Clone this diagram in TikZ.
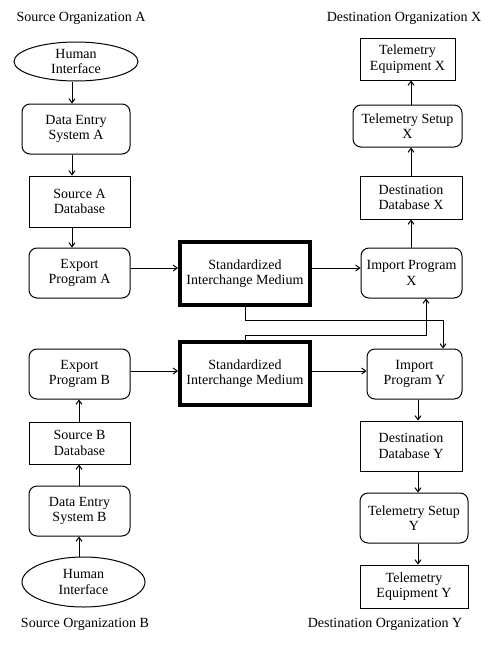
\documentclass[tikz,border=0pt]{standalone}
\usepackage{fontspec}
\setmainfont{Liberation Serif}
\usetikzlibrary{shapes.geometric,arrows.meta}

\begin{document}
\begin{tikzpicture}[x=1pt,y=-1pt,
    every node/.style={font=\fontsize{14}{15.5}\selectfont, align=center, inner sep=0pt},
    box/.style={draw, line width=1pt},
    rbox/.style={draw, line width=1pt, rounded corners=8pt},
    hbox/.style={draw, line width=4pt},
    blob/.style={draw, ellipse, line width=1pt},
    arr/.style={-{Straight Barb[length=4pt,width=6pt]}, line width=1pt}]
    \useasboundingbox (0,0) rectangle (492,648);
    % source A
    \node (orgA) at (81,18) {Source Organization A};
    \node[blob, minimum width=124pt, minimum height=39pt] (humA) at (76,61.5) {Human\\Interface};
    \node[rbox, minimum width=108pt, minimum height=50pt] (entA) at (76,129) {Data Entry\\System A};
    \node[box, minimum width=101pt, minimum height=51pt] (dbA) at (79.5,201.5) {Source A\\Database};
    \node[rbox, minimum width=101pt, minimum height=50pt] (expA) at (79.5,273) {Export\\Program A};
    \coordinate (xA) at (72,0);
    \draw[arr] (humA.south -| xA) -- (entA.north -| xA);
    \draw[arr] (entA.south -| xA) -- (dbA.north -| xA);
    \draw[arr] (dbA.south -| xA) -- (expA.north -| xA);
    % source B
    \node[rbox, minimum width=101pt, minimum height=50pt] (expB) at (79.5,374) {Export\\Program B};
    \node[box, minimum width=101pt, minimum height=42pt] (dbB) at (79.5,443) {Source B\\Database};
    \node[rbox, minimum width=101pt, minimum height=50pt] (entB) at (79.5,511) {Data Entry\\System B};
    \node[blob, minimum width=123pt, minimum height=50pt] (humB) at (83.5,582) {Human\\Interface};
    \node (orgB) at (85,624) {Source Organization B};
    \coordinate (xB) at (79,0);
    \draw[arr] (humB.north -| xB) -- (entB.south -| xB);
    \draw[arr] (entB.north -| xB) -- (dbB.south -| xB);
    \draw[arr] (dbB.north -| xB) -- (expB.south -| xB);
    % interchange media
    \node[hbox, minimum width=130pt, minimum height=63pt] (simA) at (245,273.5) {Standardized\\Interchange Medium};
    \node[hbox, minimum width=130pt, minimum height=63pt] (simB) at (245,373.5) {Standardized\\Interchange Medium};
    \coordinate (yA) at (0,268);
    \coordinate (yB) at (0,371);
    \draw[arr] (expA.east |- yA) -- (simA.west |- yA);
    \draw[arr] (expB.east |- yB) -- (simB.west |- yB);
    % destination X
    \node (orgX) at (404,18) {Destination Organization X};
    \node[box, minimum width=95pt, minimum height=42pt] (telX) at (407.5,59) {Telemetry\\Equipment X};
    \node[rbox, minimum width=109pt, minimum height=42pt] (setX) at (407.5,126) {Telemetry Setup\\X};
    \node[box, minimum width=102pt, minimum height=43pt] (dbX) at (411,197.5) {Destination\\Database X};
    \node[rbox, minimum width=101pt, minimum height=50pt] (impX) at (411.5,273) {Import Program\\X};
    \coordinate (xX) at (411,0);
    \draw[arr] (impX.north -| xX) -- (dbX.south -| xX);
    \draw[arr] (dbX.north -| xX) -- (setX.south -| xX);
    \draw[arr] (setX.north -| xX) -- (telX.south -| xX);
    \draw[arr] (simA.east |- yA) -- (impX.west |- yA);
    % destination Y
    \node[rbox, minimum width=95pt, minimum height=50pt] (impY) at (414.5,374) {Import\\Program Y};
    \node[box, minimum width=102pt, minimum height=50pt] (dbY) at (411,446) {Destination\\Database Y};
    \node[rbox, minimum width=108pt, minimum height=50pt] (setY) at (414,518) {Telemetry Setup\\Y};
    \node[box, minimum width=108pt, minimum height=43pt] (telY) at (414,586.5) {Telemetry\\Equipment Y};
    \node (orgY) at (385,624) {Destination Organization Y};
    \coordinate (xY) at (418,0);
    \draw[arr] (impY.south -| xY) -- (dbY.north -| xY);
    \draw[arr] (dbY.south -| xY) -- (setY.north -| xY);
    \draw[arr] (setY.south -| xY) -- (telY.north -| xY);
    \draw[arr] (simB.east |- yB) -- (impY.west |- yB);
    % cross links
    \coordinate (cA) at (245,320);
    \coordinate (cB) at (245,335);
    \draw[arr] (simA.south) -- (cA) -| ([xshift=28.5pt]impY.north);
    \draw[arr] (simB.north) -- (cB) -| ([xshift=14.5pt]impX.south);
\end{tikzpicture}
\end{document}
